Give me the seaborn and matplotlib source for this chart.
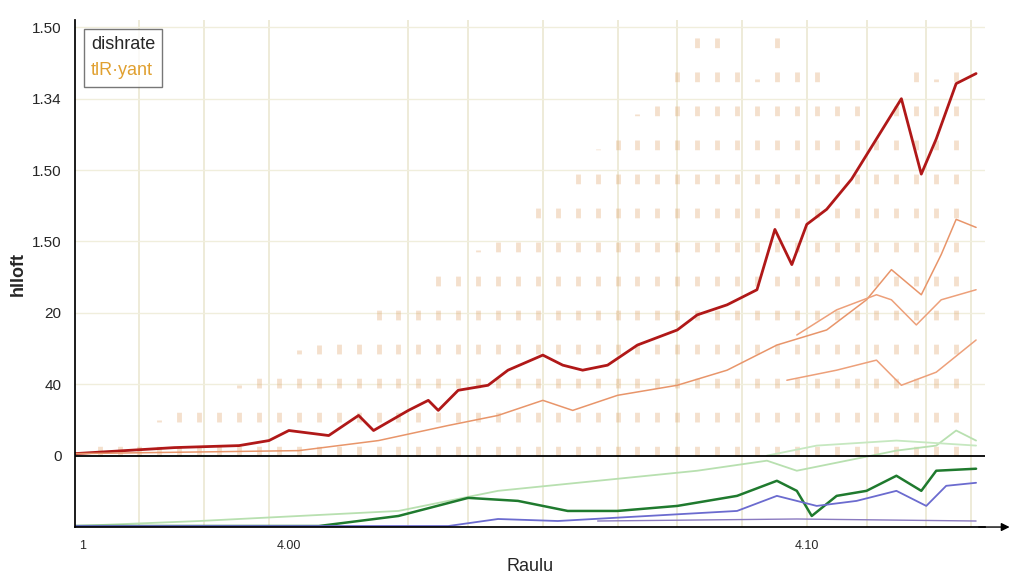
import matplotlib
matplotlib.use("Agg")
import matplotlib.pyplot as plt
import seaborn as sns
import numpy as np
import pandas as pd

sns.set_theme(style="white")
plt.rcParams['font.family'] = ['Liberation Sans', 'DejaVu Sans']

def conv(px, py):
    return [(x - 75) / 9.05 for x in px], [(455 - y) / 71.0 for y in py]

red_x = [75,175,240,270,290,330,360,375,410,430,440,460,490,510,545,565,585,610,640,680,700,730,760,778,795,810,830,855,880,905,925,940,960,980]
red_y = [453,447,445,440,430,435,415,430,410,400,410,390,385,370,355,365,370,365,345,330,315,305,290,230,265,225,210,180,140,100,175,140,85,75]
or1_x = [75,300,380,450,500,545,575,620,680,730,780,830,870,895,925,945,960,980]
or1_y = [453,450,440,425,415,400,410,395,385,370,345,330,300,270,295,255,220,228]
or2_x = [800,840,880,895,920,945,980]
or2_y = [335,310,295,300,325,300,290]
or3_x = [790,840,880,905,940,980]
or3_y = [380,370,360,385,372,340]
lg1_x = [75,200,400,500,600,700,770,800,850,900,940,960,980]
lg1_y = [525,520,510,490,480,470,460,470,460,450,445,430,440]
lg2_x = [770,820,900,980]
lg2_y = [455,445,440,445]
dg_x = [75,320,400,470,520,570,620,680,740,780,800,815,840,870,900,925,940,980]
dg_y = [525,525,515,497,500,510,510,505,495,480,490,515,495,490,475,490,470,468]
bl_x = [75,450,500,560,650,740,780,820,860,900,930,950,980]
bl_y = [525,525,518,520,515,510,495,505,500,490,505,485,482]
pu_x = [600,800,980]
pu_y = [520,518,520]
col_x = list(range(100, 980, 20))
col_top = [440,435,425,420,410,400,395,385,375,365,350,345,335,320,310,300,290,270,260,250,235,220,200,185,170,150,130,115,100,60,30,40,60,80,20,50,70,90,100,120,90,60,80,60]

fig, ax = plt.subplots(figsize=(10.24, 5.76), dpi=100)
fig.subplots_adjust(left=0.073, right=0.962, top=0.965, bottom=0.085)

cx, ct = conv(col_x, col_top)
for x, t in zip(cx, ct):
    ax.vlines(x, 0, t, color="#dc9a5a", alpha=0.3, lw=3.5, linestyles=(0, (2, 5)))

series = [
    (red_x, red_y, "#b01818", 2.0),
    (or1_x, or1_y, "#e8956a", 1.1),
    (or2_x, or2_y, "#eda07a", 1.1),
    (or3_x, or3_y, "#eda07a", 1.1),
    (lg1_x, lg1_y, "#b8e0b0", 1.3),
    (lg2_x, lg2_y, "#c6e8c0", 1.3),
    (dg_x, dg_y, "#1f7a2e", 1.8),
    (bl_x, bl_y, "#6b6bcf", 1.3),
    (pu_x, pu_y, "#8a7ac0", 1.0),
]
for px, py, c, lw in series:
    x, y = conv(px, py)
    sns.lineplot(x=x, y=y, color=c, lw=lw, ax=ax)

ax.axhline(0, color="black", lw=1.3)
ax.set_xlim(0, 101)
ax.set_ylim(-1.0, 6.1)
ax.set_yticks([6, 5, 4, 3, 2, 1, 0])
ax.set_yticklabels(["1.50", "1.34", "1.50", "1.50", "20", "40", "0"], fontsize=11)
ax.set_xticks(conv([83, 290, 810], [0, 0, 0])[0])
ax.set_xticklabels(["1", "4.00", "4.10"], fontsize=9)
for xv in conv([140, 205, 270, 410, 470, 545, 620, 680, 745, 810, 870, 930, 975], [0]*13)[0]:
    ax.axvline(xv, color="#ebe8d2", lw=1.2, zorder=0)
for yv in [1, 2, 3, 4, 5, 6]:
    ax.axhline(yv, color="#f0eedc", lw=1.0, zorder=0)
ax.set_xlabel("Raulu", fontsize=13)
ax.set_ylabel("hlloft", fontsize=13, fontweight="bold")
for s in ["top", "right"]:
    ax.spines[s].set_visible(False)
ax.spines["left"].set_color("black")
ax.spines["bottom"].set_color("black")
ax.annotate("", xy=(1.03, 0), xycoords="axes fraction", xytext=(0.99, 0),
            arrowprops=dict(arrowstyle="-|>", color="black"))

h1 = plt.Line2D([], [], color="none")
leg = ax.legend([h1, h1], ["dishrate", "tlR·yant"], loc="upper left", fontsize=13,
                handlelength=0, handletextpad=0, frameon=True, edgecolor="#555555", fancybox=False)
leg.get_texts()[1].set_color("#e0a030")
fig.savefig("out.png", dpi=100)
